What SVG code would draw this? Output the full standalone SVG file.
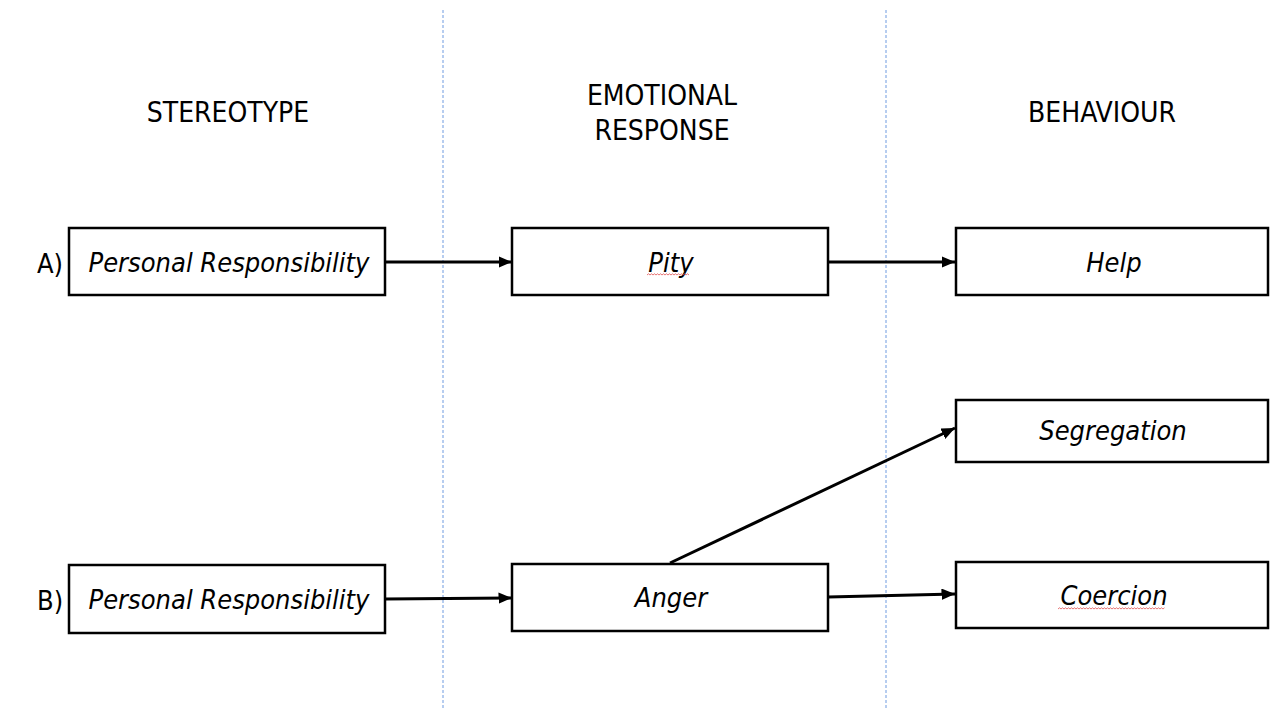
<svg xmlns="http://www.w3.org/2000/svg" width="1272" height="708" viewBox="0 0 1272 708">
<style>
.bg{fill:#ffffff}
.div{stroke:#6f9be0;stroke-width:1;stroke-dasharray:3 2;fill:none}
.box{fill:#ffffff;stroke:#000000;stroke-width:2.5}
.hdr{font-family:"DejaVu Sans Condensed","DejaVu Sans",sans-serif;font-size:28px;fill:#000;text-anchor:middle}
.lbl{font-family:"DejaVu Sans Condensed","DejaVu Sans",sans-serif;font-size:27px;fill:#000;text-anchor:middle;font-style:italic}
.row{font-family:"DejaVu Sans Condensed","DejaVu Sans",sans-serif;font-size:27px;fill:#000}
.edge{stroke:#000;stroke-width:3;fill:none;marker-end:url(#ah)}
.sq{stroke:#e05050;stroke-width:0.8;fill:none}
</style>
<defs>
<marker id="ah" viewBox="0 0 10 10" refX="10" refY="5" markerWidth="4.5" markerHeight="3.8" markerUnits="strokeWidth" orient="auto" preserveAspectRatio="none">
<path d="M0,0 L10,5 L0,10 Z" fill="#000"/>
</marker>
</defs>
<rect class="bg" x="0" y="0" width="1272" height="708"/>
<g id="dividers">
<line class="div" x1="443" y1="10" x2="443" y2="708"/>
<line class="div" x1="886" y1="10" x2="886" y2="708"/>
</g>
<g id="headers">
<text class="hdr" x="228" y="122">STEREOTYPE</text>
<text class="hdr" x="662" y="105">EMOTIONAL</text>
<text class="hdr" x="662" y="140">RESPONSE</text>
<text class="hdr" x="1102" y="122">BEHAVIOUR</text>
<text class="row" x="37" y="273">A)</text>
<text class="row" x="37" y="610">B)</text>
</g>
<g id="connectors">
<line class="edge" x1="385" y1="262" x2="512" y2="262"/>
<line class="edge" x1="828" y1="262" x2="955" y2="262"/>
<line class="edge" x1="385" y1="599" x2="512" y2="598"/>
<line class="edge" x1="670" y1="563" x2="955" y2="428"/>
<line class="edge" x1="828" y1="597" x2="955" y2="594"/>
</g>
<g id="a-stereotype">
<rect class="box" x="69" y="228" width="316" height="67"/>
<text class="lbl" x="229" y="272">Personal Responsibility</text>
</g>
<g id="a-pity">
<rect class="box" x="512" y="228" width="316" height="67"/>
<text class="lbl" x="671" y="272">Pity</text>
<path class="sq" d="M647,275 l1.5,-1.2 l1.5,1.2 l1.5,-1.2 l1.5,1.2 l1.5,-1.2 l1.5,1.2 l1.5,-1.2 l1.5,1.2 l1.5,-1.2 l1.5,1.2 l1.5,-1.2 l1.5,1.2 l1.5,-1.2 l1.5,1.2 l1.5,-1.2 l1.5,1.2 l1.5,-1.2 l1.5,1.2 l1.5,-1.2 l1.5,1.2 l1.5,-1.2 l1.5,1.2 l1.5,-1.2 l1.5,1.2 l1.5,-1.2 l1.5,1.2 l1.5,-1.2 l1.5,1.2"/>
</g>
<g id="a-help">
<rect class="box" x="956" y="228" width="312" height="67"/>
<text class="lbl" x="1114" y="272">Help</text>
</g>
<g id="b-stereotype">
<rect class="box" x="69" y="565" width="316" height="68"/>
<text class="lbl" x="229" y="609">Personal Responsibility</text>
</g>
<g id="b-anger">
<rect class="box" x="512" y="564" width="316" height="67"/>
<text class="lbl" x="671" y="607">Anger</text>
</g>
<g id="b-segregation">
<rect class="box" x="956" y="400" width="312" height="62"/>
<text class="lbl" x="1113" y="440">Segregation</text>
</g>
<g id="b-coercion">
<rect class="box" x="956" y="562" width="312" height="66"/>
<text class="lbl" x="1114" y="605">Coercion</text>
<path class="sq" d="M1058,609 l1.5,-1.2 l1.5,1.2 l1.5,-1.2 l1.5,1.2 l1.5,-1.2 l1.5,1.2 l1.5,-1.2 l1.5,1.2 l1.5,-1.2 l1.5,1.2 l1.5,-1.2 l1.5,1.2 l1.5,-1.2 l1.5,1.2 l1.5,-1.2 l1.5,1.2 l1.5,-1.2 l1.5,1.2 l1.5,-1.2 l1.5,1.2 l1.5,-1.2 l1.5,1.2 l1.5,-1.2 l1.5,1.2 l1.5,-1.2 l1.5,1.2 l1.5,-1.2 l1.5,1.2 l1.5,-1.2 l1.5,1.2 l1.5,-1.2 l1.5,1.2 l1.5,-1.2 l1.5,1.2 l1.5,-1.2 l1.5,1.2 l1.5,-1.2 l1.5,1.2 l1.5,-1.2 l1.5,1.2 l1.5,-1.2 l1.5,1.2 l1.5,-1.2 l1.5,1.2 l1.5,-1.2 l1.5,1.2 l1.5,-1.2 l1.5,1.2 l1.5,-1.2 l1.5,1.2 l1.5,-1.2 l1.5,1.2 l1.5,-1.2 l1.5,1.2 l1.5,-1.2 l1.5,1.2 l1.5,-1.2 l1.5,1.2 l1.5,-1.2 l1.5,1.2 l1.5,-1.2 l1.5,1.2 l1.5,-1.2 l1.5,1.2 l1.5,-1.2 l1.5,1.2 l1.5,-1.2 l1.5,1.2 l1.5,-1.2 l1.5,1.2 l1.5,-1.2"/>
</g>
</svg>
